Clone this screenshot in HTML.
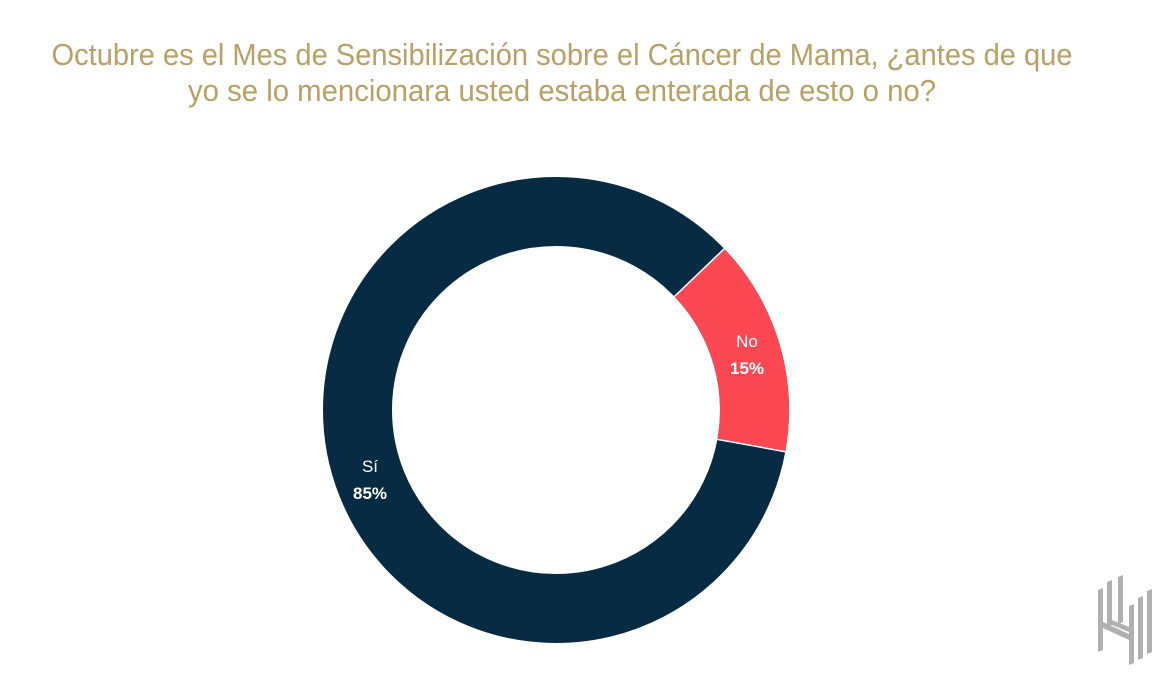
<!DOCTYPE html>
<html><head><meta charset="utf-8"><style>
html,body{margin:0;padding:0;background:#fff;}
svg{display:block;}
</style></head><body>
<svg width="1176" height="697" viewBox="0 0 1176 697">
<text x="562" y="65" text-anchor="middle" font-family="Liberation Sans, sans-serif" font-size="31" fill="#b9a064" textLength="1021" lengthAdjust="spacingAndGlyphs">Octubre es el Mes de Sensibilización sobre el Cáncer de Mama, ¿antes de que</text>
<text x="562" y="101" text-anchor="middle" font-family="Liberation Sans, sans-serif" font-size="31" fill="#b9a064" textLength="748" lengthAdjust="spacingAndGlyphs">yo se lo mencionara usted estaba enterada de esto o no?</text>
<circle cx="556" cy="410" r="198.5" fill="none" stroke="#072b42" stroke-width="69"/>
<circle cx="556" cy="410" r="198.5" fill="none" stroke="#fc4853" stroke-width="69" stroke-dasharray="187.1 2000" transform="rotate(-43.8 556 410)"/>
<line x1="674.4" y1="296.5" x2="724.2" y2="248.8" stroke="#fff" stroke-width="1.5"/>
<line x1="717.4" y1="439.4" x2="785.3" y2="451.7" stroke="#fff" stroke-width="1.5"/>
<text x="747" y="347" text-anchor="middle" font-family="Liberation Sans, sans-serif" font-size="17" fill="#fff">No</text>
<text x="747" y="374" text-anchor="middle" font-family="Liberation Sans, sans-serif" font-size="17" font-weight="bold" fill="#fff">15%</text>
<text x="370" y="472" text-anchor="middle" font-family="Liberation Sans, sans-serif" font-size="17" fill="#fff">Sí</text>
<text x="370" y="499" text-anchor="middle" font-family="Liberation Sans, sans-serif" font-size="17" font-weight="bold" fill="#fff">85%</text>
<g fill="#b0b0b0">
<polygon points="1098,590 1103,588 1103,650 1098,652"/>
<polygon points="1107,582 1112,580 1112,625 1107,627"/>
<polygon points="1118,577 1123,575 1123,622 1118,624"/>
<polygon points="1129,606 1134,604 1134,663 1129,665"/>
<polygon points="1138,598 1143,596 1143,658 1138,660"/>
<polygon points="1147,591 1152,589 1152,652 1147,654"/>
<polygon points="1103,622 1129,634 1129,640 1103,628"/>
<polygon points="1112,620 1129,627 1129,632 1112,625"/>
</g>
</svg>
</body></html>
